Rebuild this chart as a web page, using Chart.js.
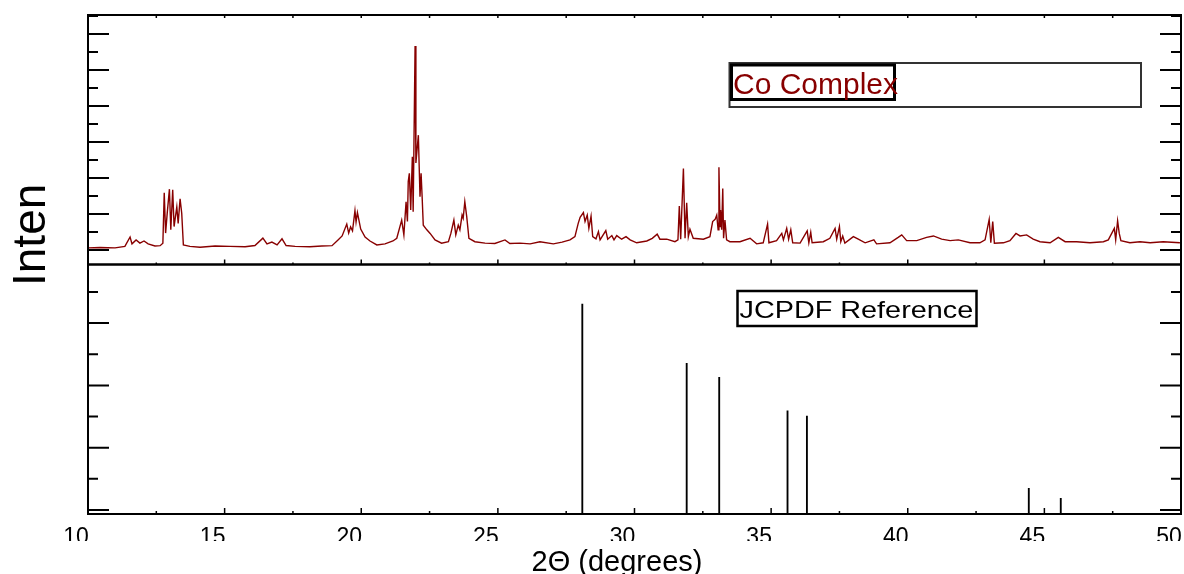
<!DOCTYPE html>
<html>
<head>
<meta charset="utf-8">
<script src="https://cdn.jsdelivr.net/npm/chart.js@4.4.0/dist/chart.umd.min.js"></script>
<style>
  body { margin: 0; background: #fff; }
  canvas { display: block; }
</style>
</head>
<body>
<canvas id="xrd" width="1184" height="574"></canvas>
<script>
// Co complex pattern (2theta in degrees, intensity in arbitrary units)
const CO_THETA = [
  10.00, 10.44, 10.99, 11.35, 11.54, 11.61, 11.76, 11.90, 12.05, 12.20,
  12.45, 12.64, 12.74, 12.79, 12.84, 12.90, 12.98, 13.03, 13.10, 13.15,
  13.25, 13.30, 13.37, 13.43, 13.49, 13.73, 14.10, 14.65, 15.20, 15.75,
  16.11, 16.40, 16.55, 16.73, 16.92, 17.10, 17.25, 17.58, 18.12, 18.56,
  18.93, 19.15, 19.30, 19.47, 19.54, 19.61, 19.68, 19.77, 19.81, 19.86,
  19.98, 20.14, 20.32, 20.57, 20.87, 21.16, 21.30, 21.48, 21.56, 21.64,
  21.69, 21.72, 21.76, 21.81, 21.87, 21.90, 21.97, 22.00, 22.09, 22.15,
  22.19, 22.23, 22.27, 22.40, 22.52, 22.70, 22.94, 23.19, 23.28, 23.39,
  23.46, 23.55, 23.61, 23.69, 23.73, 23.79, 23.86, 23.94, 24.16, 24.53,
  24.89, 25.26, 25.44, 25.81, 26.18, 26.54, 27.03, 27.35, 27.64, 27.82,
  27.94, 28.01, 28.13, 28.19, 28.27, 28.33, 28.41, 28.47, 28.59, 28.68,
  28.74, 28.95, 29.02, 29.17, 29.25, 29.35, 29.53, 29.69, 29.84, 30.08,
  30.45, 30.65, 30.83, 30.93, 31.18, 31.48, 31.59, 31.64, 31.69, 31.79,
  31.85, 31.91, 31.97, 32.03, 32.15, 32.52, 32.76, 32.86, 32.95, 33.01,
  33.06, 33.09, 33.13, 33.15, 33.19, 33.23, 33.26, 33.31, 33.37, 33.49,
  33.86, 34.23, 34.47, 34.71, 34.87, 34.92, 35.20, 35.39, 35.45, 35.57,
  35.64, 35.72, 35.79, 36.06, 36.32, 36.38, 36.45, 36.50, 36.91, 37.15,
  37.34, 37.40, 37.50, 37.55, 37.62, 37.70, 38.01, 38.19, 38.44, 38.76,
  38.86, 39.35, 39.65, 39.78, 39.96, 40.33, 40.69, 40.94, 41.24, 41.55,
  41.85, 42.28, 42.64, 42.83, 42.98, 43.04, 43.11, 43.17, 43.50, 43.74,
  43.96, 44.11, 44.35, 44.59, 44.84, 45.21, 45.51, 45.76, 46.18, 46.67,
  47.16, 47.34, 47.56, 47.61, 47.68, 47.74, 47.80, 48.13, 48.50, 48.87,
  49.35, 49.96
];
const CO_INT = [
  0.6, 0.7, 0.6, 1.0, 3.6, 1.7, 2.8, 1.9, 2.5, 1.7,
  1.1, 1.2, 1.9, 15.9, 4.7, 10.3, 16.9, 5.6, 16.7, 6.5,
  12.0, 7.4, 14.2, 10.2, 1.4, 1.0, 0.75, 1.1, 1.0, 0.9,
  1.25, 3.3, 1.7, 2.2, 1.4, 3.1, 1.25, 1.0, 0.9, 1.1,
  1.2, 2.8, 3.9, 7.2, 4.7, 6.4, 5.3, 10.9, 7.8, 10.4,
  5.8, 3.6, 2.5, 1.4, 1.7, 2.5, 3.25, 8.3, 4.2, 13.4,
  7.9, 19.0, 21.3, 11.1, 25.9, 10.6, 56.7, 24.2, 31.9, 14.8,
  21.3, 14.4, 6.9, 5.6, 4.6, 2.8, 1.9, 2.3, 4.6, 8.3,
  4.2, 6.9, 5.6, 9.7, 8.8, 13.4, 9.25, 3.25, 2.3, 1.9,
  1.8, 2.8, 1.8, 1.9, 1.7, 2.3, 1.7, 2.2, 2.8, 3.7,
  7.4, 9.1, 10.4, 7.9, 9.7, 6.0, 9.4, 3.7, 3.1, 5.1,
  2.8, 5.4, 3.0, 4.0, 2.8, 4.0, 3.0, 3.7, 2.8, 2.0,
  2.5, 3.25, 4.4, 3.0, 3.0, 2.3, 2.8, 12.2, 3.0, 22.6,
  3.25, 13.1, 3.7, 5.75, 3.25, 3.0, 3.7, 7.9, 8.5, 9.7,
  5.6, 23.0, 6.5, 11.1, 5.6, 17.1, 3.25, 8.3, 2.8, 2.3,
  2.3, 3.25, 1.7, 2.0, 7.2, 2.0, 2.6, 4.6, 2.8, 6.0,
  3.0, 5.6, 2.0, 1.9, 5.3, 2.0, 4.9, 2.0, 2.3, 3.25,
  6.0, 3.0, 6.5, 2.3, 3.9, 1.9, 3.7, 3.0, 2.0, 2.8,
  1.7, 2.0, 3.5, 4.2, 2.6, 2.6, 3.5, 3.9, 3.0, 2.6,
  2.8, 2.0, 2.0, 2.8, 8.5, 2.0, 7.9, 1.9, 2.0, 2.6,
  4.6, 3.9, 4.2, 3.0, 2.3, 2.0, 3.5, 2.3, 2.3, 2.0,
  2.3, 2.8, 6.0, 2.8, 8.1, 4.6, 2.6, 2.0, 2.3, 2.0,
  2.3, 2.0
];

// JCPDF reference lines
const REF_THETA = [28.09, 31.91, 33.10, 35.60, 36.31, 44.43, 45.60];
const REF_INT = [82.6, 58.8, 53.2, 39.8, 37.7, 8.7, 4.7];

const X_MIN = 10, X_MAX = 50;
const TOP_MIN = -4.03, TOP_MAX = 65.28, TOP_STEP = 5;
const BOT_MIN = -1.6, BOT_MAX = 98.5, BOT_STEP = 12.5;

const FONT = '"Liberation Sans", Arial, Helvetica, sans-serif';
const RED = "#880000";

// Frame, inward ticks, legend boxes and axis titles
const decorPlugin = {
  id: "decor",
  afterDraw(chart) {
    const ctx = chart.ctx;
    const xs = chart.scales.x;
    const yt = chart.scales.yTop;
    const yb = chart.scales.yBot;
    const left = chart.chartArea.left;
    const right = chart.chartArea.right;

    ctx.save();
    ctx.strokeStyle = "#000";

    // y ticks, left and right, pointing inward
    function yTicks(scale, step, majorEvery) {
      const first = Math.ceil(scale.min / step);
      for (let k = first; k * step <= scale.max + 1e-9; k++) {
        const py = scale.getPixelForValue(k * step);
        const len = k % majorEvery === 0 ? 21 : 10;
        ctx.lineWidth = 2;
        ctx.beginPath();
        ctx.moveTo(left, py); ctx.lineTo(left + len, py);
        ctx.moveTo(right, py); ctx.lineTo(right - len, py);
        ctx.stroke();
      }
    }
    yTicks(yt, TOP_STEP, 2);
    yTicks(yb, BOT_STEP, 2);

    // x ticks on the horizontal edges
    function xTicks(yPix, dir, majorLen, minorLen) {
      ctx.lineWidth = 1.5;
      for (let v = X_MIN + 2.5; v < X_MAX; v += 2.5) {
        const px = xs.getPixelForValue(v);
        const len = (v % 5 === 0) ? majorLen : minorLen;
        ctx.beginPath();
        ctx.moveTo(px, yPix);
        ctx.lineTo(px, yPix + dir * len);
        ctx.stroke();
      }
    }
    xTicks(yb.bottom, -1, 6, 3);
    xTicks(yt.bottom, -1, 5, 2);
    xTicks(yt.top, 1, 3, 3);

    // panel frames
    ctx.lineWidth = 2;
    ctx.strokeRect(left, yt.top, right - left, yt.bottom - yt.top);
    ctx.strokeRect(left, yb.top, right - left, yb.bottom - yb.top);

    // legend box: Co Complex
    ctx.lineWidth = 2;
    ctx.strokeStyle = "#333";
    ctx.strokeRect(729.5, 63, 411.5, 44);
    ctx.strokeStyle = "#000";
    ctx.lineWidth = 3;
    ctx.strokeRect(731.5, 65, 163, 34.5);
    ctx.fillStyle = RED;
    ctx.font = "30px " + FONT;
    ctx.textAlign = "left";
    ctx.textBaseline = "alphabetic";
    ctx.fillText("Co Complex", 733, 93.5);

    // legend box: JCPDF Reference
    ctx.lineWidth = 2.5;
    ctx.strokeRect(737.5, 291, 239, 35);
    ctx.fillStyle = "#000";
    ctx.save();
    ctx.translate(739.5, 317.5);
    ctx.scale(1.2, 1);
    ctx.font = "24px " + FONT;
    ctx.fillText("JCPDF Reference", 0, 0);
    ctx.restore();

    // x title (covers the bottom of the tick labels like the original)
    ctx.fillStyle = "#fff";
    ctx.fillRect(0, 541, chart.width, chart.height - 541);
    ctx.fillStyle = "#000";
    ctx.font = "29px " + FONT;
    ctx.textAlign = "center";
    ctx.fillText("2\u0398 (degrees)", 617, 571);

    // y title
    ctx.save();
    ctx.translate(45, 286);
    ctx.rotate(-Math.PI / 2);
    ctx.font = "46px " + FONT;
    ctx.textAlign = "left";
    ctx.fillText("Inten", 0, 0);
    ctx.restore();

    ctx.restore();
  }
};

const zeroWidth = (s) => { s.width = 0; s.paddingTop = 0; s.paddingBottom = 0; };

new Chart(document.getElementById("xrd"), {
  type: "bar",
  data: {
    datasets: [
      {
        type: "line",
        label: "Co Complex",
        data: CO_THETA.map((t, i) => ({ x: t, y: CO_INT[i] })),
        xAxisID: "x",
        yAxisID: "yTop",
        borderColor: RED,
        borderWidth: 1.4,
        pointRadius: 0,
        tension: 0
      },
      {
        type: "bar",
        label: "JCPDF Reference",
        data: REF_THETA.map((t, i) => ({ x: t, y: REF_INT[i] })),
        xAxisID: "x",
        yAxisID: "yBot",
        backgroundColor: "#000",
        borderWidth: 0,
        barThickness: 1.2,
        base: BOT_MIN
      }
    ]
  },
  options: {
    responsive: false,
    animation: false,
    events: [],
    layout: { autoPadding: false, padding: { left: 88, right: 3, top: 15, bottom: 0 } },
    plugins: { legend: { display: false }, tooltip: { enabled: false } },
    scales: {
      x: {
        type: "linear",
        position: "bottom",
        min: X_MIN,
        max: X_MAX,
        offset: false,
        grid: { display: false, drawTicks: false },
        border: { display: false },
        ticks: {
          stepSize: 5,
          autoSkip: false,
          maxRotation: 0,
          labelOffset: -12,
          padding: 10,
          color: "#000",
          font: { family: FONT, size: 23 }
        },
        afterFit: (s) => { s.height = 60; s.paddingLeft = 0; s.paddingRight = 0; }
      },
      yBot: {
        type: "linear",
        position: "left",
        stack: "panels",
        stackWeight: 1,
        min: BOT_MIN,
        max: BOT_MAX,
        grid: { display: false, drawTicks: false },
        border: { display: false },
        ticks: { display: false },
        afterFit: zeroWidth
      },
      yTop: {
        type: "linear",
        position: "left",
        stack: "panels",
        stackWeight: 1,
        min: TOP_MIN,
        max: TOP_MAX,
        grid: { display: false, drawTicks: false },
        border: { display: false },
        ticks: { display: false },
        afterFit: zeroWidth
      }
    }
  },
  plugins: [decorPlugin]
});
</script>
</body>
</html>
